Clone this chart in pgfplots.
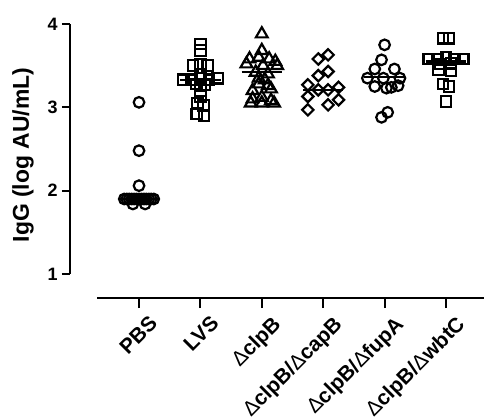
\documentclass[border=0pt]{standalone}
\usepackage{pgfplots}
\pgfplotsset{compat=1.18}
\usepackage{fontspec}
\setmainfont{Liberation Sans}
\newcommand{\D}{{\mdseries\char"0394}}
\begin{document}
\begin{tikzpicture}
\path[use as bounding box] (-70bp,-145bp) rectangle (414bp,274bp);
\begin{axis}[
  scale only axis, width=414bp, height=250bp,
  at={(0,0)}, anchor=south west,
  xmin=-1.124, xmax=5.619, ymin=1, ymax=4,
  axis x line=none, axis y line=left,
  axis line style={line width=2.2bp, -},
  ytick={1,2,3,4}, yticklabels={\textbf{1},\textbf{2},\textbf{3},\textbf{4}},
  tick align=outside, major tick length=8bp,
  every tick/.style={line width=2.2bp, black},
  yticklabel style={font=\fontsize{18}{20}\selectfont, xshift=-1bp},
  ylabel={\textbf{IgG (log AU/mL)}},
  every axis y label/.style={at={(axis description cs:-0.1135,0.476)}, rotate=90, anchor=center, font=\fontsize{23}{26}\selectfont},
  clip=false,
  mark options={line width=2.2bp, draw=black, fill=none, solid},
]
% PBS
\addplot[only marks, mark=o, mark size=5.3bp] coordinates {
(0,3.06) (0,2.48) (0,2.06)
(-0.24,1.90) (-0.20,1.90) (-0.16,1.90) (-0.12,1.90) (-0.08,1.90) (-0.04,1.90) (0,1.90)
(0.04,1.90) (0.08,1.90) (0.12,1.90) (0.16,1.90) (0.20,1.90) (0.24,1.90)
(-0.10,1.84) (0.10,1.84)
};
% LVS
\addplot[only marks, mark=square, mark size=5.3bp] coordinates {
(1,3.76) (1,3.68) (0.88,3.50) (1,3.52) (1.12,3.50)
(0.72,3.33) (0.86,3.33) (1,3.35) (1.14,3.33) (1.28,3.35)
(0.93,3.28) (1.07,3.27) (1,3.20) (1,3.13) (0.95,3.05) (1.05,3.02)
(0.94,2.92) (1.06,2.90)
};
% dclpB
\addplot[only marks, mark=triangle, mark size=6.8bp] coordinates {
(2,3.88) (2,3.68) (1.80,3.58) (1.95,3.60) (2.12,3.58) (2.22,3.55)
(1.75,3.52) (2.02,3.50) (2.25,3.50) (1.90,3.42) (2.10,3.40)
(1.95,3.35) (2.05,3.33) (1.95,3.28) (2.10,3.26) (1.85,3.20) (2.15,3.22)
(1.85,3.10) (2,3.12) (2.15,3.08) (1.82,3.05) (2,3.05) (2.20,3.05)
};
% dclpB/dcapB
\addplot[only marks, mark=square, mark size=4.0bp, mark options={rotate=45, line width=2.2bp, draw=black, fill=none}] coordinates {
(3.08,3.63) (2.92,3.58) (3.08,3.43) (2.92,3.38) (2.75,3.27) (2.92,3.21)
(3.08,3.21) (3.25,3.24) (2.75,3.13) (3.25,3.09) (3.08,3.03) (2.75,2.97)
};
% dclpB/dfupA
\addplot[only marks, mark=o, mark size=5.3bp] coordinates {
(4,3.75) (3.95,3.57) (3.84,3.46) (4.16,3.46) (3.72,3.35) (3.98,3.35) (4.25,3.35)
(3.84,3.25) (4.03,3.23) (4.11,3.24) (4.22,3.26) (3.95,2.88) (4.05,2.94)
};
% dclpB/dwbtC
\addplot[only marks, mark=square, mark size=5.3bp] coordinates {
(4.95,3.83) (5.05,3.83) (4.72,3.58) (4.86,3.58) (5,3.60) (5.14,3.58) (5.28,3.58)
(4.90,3.52) (5.08,3.53) (4.88,3.45) (5.08,3.44) (4.95,3.28) (5.05,3.25) (5,3.07)
};
% medians
\addplot[black, line width=2.2bp, no marks] coordinates {(-0.33,1.90) (0.33,1.90)};
\addplot[black, line width=2.2bp, no marks] coordinates {(0.67,3.33) (1.33,3.33)};
\addplot[black, line width=2.2bp, no marks] coordinates {(1.67,3.42) (2.33,3.42)};
\addplot[black, line width=2.2bp, no marks] coordinates {(2.67,3.21) (3.33,3.21)};
\addplot[black, line width=2.2bp, no marks] coordinates {(3.67,3.36) (4.33,3.36)};
\addplot[black, line width=2.2bp, no marks] coordinates {(4.67,3.55) (5.33,3.55)};
\end{axis}
\begin{axis}[
  scale only axis, width=387bp, height=20bp,
  at={(27bp,-24bp)}, anchor=south west,
  xmin=-0.684, xmax=5.619, ymin=0, ymax=1,
  axis y line=none, axis x line=bottom,
  axis line style={line width=2.2bp, -},
  xtick={0,1,2,3,4,5},
  xticklabels={PBS, LVS, \D clpB, \D clpB/\D capB, \D clpB/\D fupA, \D clpB/\D wbtC},
  tick align=outside, major tick length=10bp,
  every tick/.style={line width=2.2bp, black},
  xticklabel style={font=\fontsize{21}{23}\selectfont\bfseries, rotate=45, anchor=north east, inner sep=1bp, yshift=-10bp, xshift=3bp},
]
\addplot[draw=none] coordinates {(0,0.5)};
\end{axis}
\end{tikzpicture}
\end{document}
